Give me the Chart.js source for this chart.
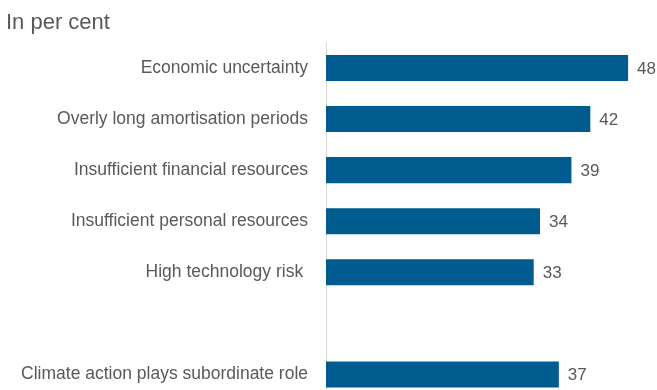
<!DOCTYPE html>
<html>
<head>
<meta charset="utf-8">
<script src="https://cdn.jsdelivr.net/npm/chart.js@4"></script>
<style>
  html, body { margin: 0; padding: 0; background: #fff; overflow: hidden; }
  canvas { display: block; }
</style>
</head>
<body>
<canvas id="barras" width="657" height="400"></canvas>
<script>
// Obstacles named by firms (share of respondents, in per cent)
var categories = [
    'Economic uncertainty',
    'Overly long amortisation periods',
    'Insufficient financial resources',
    'Insufficient personal resources',
    'High technology risk ',
    '',
    'Climate action plays subordinate role'
];
var shares = [48, 42, 39, 34, 33, null, 37];

var barColor = '#005b8e';
var textColor = '#595959';

// writes the value just after the end of each bar
var valueLabels = {
    id: 'valueLabels',
    afterDatasetsDraw: function (chart) {
        var ctx = chart.ctx;
        var meta = chart.getDatasetMeta(0);
        ctx.save();
        ctx.font = '17px "Liberation Sans", Arial, sans-serif';
        ctx.fillStyle = textColor;
        ctx.textAlign = 'left';
        ctx.textBaseline = 'middle';
        meta.data.forEach(function (bar, i) {
            var v = shares[i];
            if (v === null || v === undefined) return;
            ctx.fillText(String(v), bar.x + 9, bar.y + 1);
        });
        ctx.restore();
    }
};

var ctx = document.getElementById('barras').getContext('2d');
var chart = new Chart(ctx, {
    type: 'bar',
    data: {
        labels: categories,
        datasets: [{
            data: shares,
            backgroundColor: barColor,
            borderWidth: 0,
            categoryPercentage: 1,
            barPercentage: 0.51
        }]
    },
    options: {
        indexAxis: 'y',
        responsive: false,
        animation: false,
        layout: { padding: { left: 6, right: 5, top: 0, bottom: 0 } },
        plugins: {
            legend: { display: false },
            tooltip: { enabled: false },
            title: {
                display: true,
                text: 'In per cent',
                align: 'start',
                color: textColor,
                font: { family: '"Liberation Sans", Arial, sans-serif', size: 22, weight: 'normal' },
                padding: { top: 10, bottom: 6 }
            }
        },
        scales: {
            x: {
                display: false,
                min: 0,
                max: 51.8
            },
            y: {
                grid: { display: false },
                border: { display: true, color: '#d9d9d9', width: 1 },
                ticks: {
                    color: textColor,
                    padding: 10,
                    font: { family: '"Liberation Sans", Arial, sans-serif', size: 17.5 }
                },
                afterFit: function (scale) {
                    // fixed label column; bars run to the bottom edge
                    scale.width = 320;
                    scale.paddingTop = 0;
                    scale.paddingBottom = 0;
                }
            }
        }
    },
    plugins: [valueLabels]
});
</script>
</body>
</html>
